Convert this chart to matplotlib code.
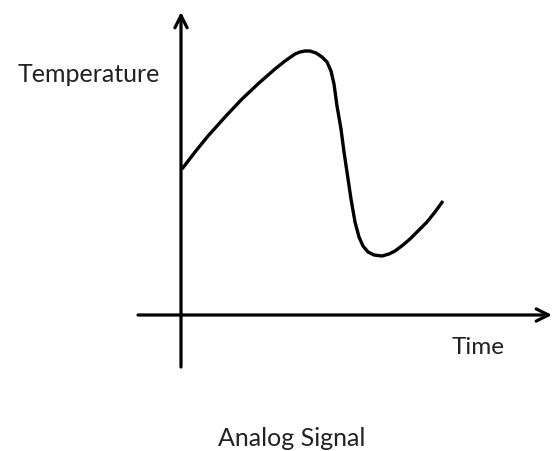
import matplotlib.pyplot as plt

# curve (time, temperature), origin at the axes crossing
tiempo = [1, 14, 27, 44, 61, 78, 94, 104, 114, 119, 124, 129, 135, 141, 146, 150,
          153, 156, 160, 163, 166, 170, 174, 178, 182, 187, 193, 201, 208, 214,
          222, 229, 237, 246, 254, 262]
temperatura = [146, 163, 179, 198, 216, 232, 246, 254, 261, 263, 264, 264, 262, 258,
               253, 244, 231, 209, 186, 163, 143, 116, 93, 78, 69, 63, 60, 59, 61, 64,
               70, 76, 84, 93, 103, 114]

fig = plt.figure(figsize=(5.53, 4.52), dpi=100)
ax = fig.add_axes([0, 0, 1, 1])
ax.set_xlim(-181, 372)
ax.set_ylim(-136, 316)
ax.axis('off')

# ejes con flecha
ax.annotate('', xy=(371, 0), xytext=(-43, 0),
            arrowprops=dict(arrowstyle='->', lw=2.3, color='black',
                            mutation_scale=22, shrinkA=0, shrinkB=0))
ax.annotate('', xy=(0, 303), xytext=(0, -52),
            arrowprops=dict(arrowstyle='->', lw=2.3, color='black',
                            mutation_scale=22, shrinkA=0, shrinkB=0))

ax.plot(tiempo, temperatura, color='black', lw=2.4, solid_joinstyle='round',
        solid_capstyle='butt')

fuente = ['Lato', 'DejaVu Sans']
ax.text(-163, 234, 'Temperature', fontsize=18, color='#222222', family=fuente, va='baseline')
ax.text(271, -38, 'Time', fontsize=17.5, color='#222222', family=fuente, va='baseline')
ax.text(111, -130, 'Analog Signal', fontsize=18, color='#222222', family=fuente,
        ha='center', va='baseline')

fig.savefig('out.png', dpi=100)
